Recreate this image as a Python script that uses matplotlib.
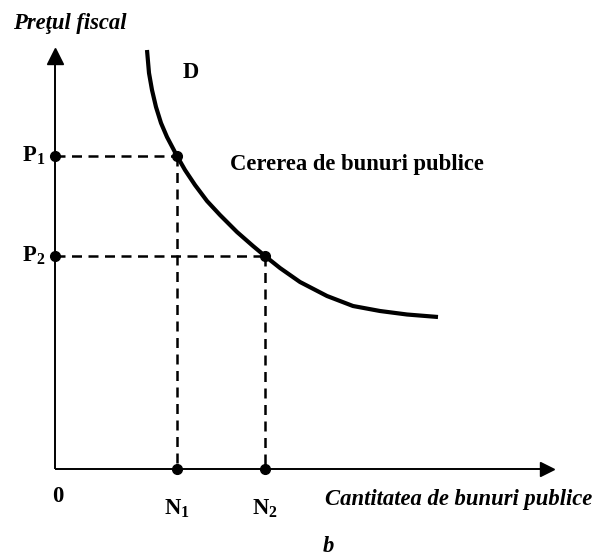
import numpy as np
import matplotlib
matplotlib.use("Agg")
import matplotlib.pyplot as plt

plt.rcParams['font.family'] = ['Liberation Serif', 'DejaVu Serif']
plt.rcParams['mathtext.fontset'] = 'custom'
plt.rcParams['mathtext.bf'] = 'Liberation Serif:bold'
plt.rcParams['mathtext.rm'] = 'Liberation Serif'

# demand curve (units measured from the origin)
curve_x = [92, 94, 97, 101, 106, 112, 122, 130, 140, 152, 165, 182, 198,
           210, 225, 245, 272, 298, 325, 352, 383]
curve_y = [419, 396, 379, 362, 346, 332, 313, 299, 284, 268, 254, 237, 223,
           213, 201, 187, 173, 163, 158, 154.5, 152]

# marked price levels and quantities
p_levels = [313, 213]
n_levels = [122, 210]
p_labels = [r'$\mathbf{P_1}$', r'$\mathbf{P_2}$']
n_labels = [r'$\mathbf{N_1}$', r'$\mathbf{N_2}$']

x_max = 492
y_max = 413

fig = plt.figure(figsize=(5.97, 5.59), dpi=100)
ax = fig.add_axes([0, 0, 1, 1])
ax.set_xlim(-55, 542)
ax.set_ylim(-90, 469)
ax.axis('off')

# axes with arrows
ax.plot([0, 0], [0, y_max], color='black', lw=1.4, solid_capstyle='butt')
ax.plot([0, x_max], [0, 0], color='black', lw=1.4, solid_capstyle='butt')
ax.plot(0, y_max, marker='^', ms=11, color='black')
ax.plot(x_max, 0, marker='>', ms=10, color='black')

# guides
for p, n in zip(p_levels, n_levels):
    ax.plot([0, n], [p, p], color='black', lw=1.8, dashes=(4, 2.6))
    ax.plot([n, n], [p, 0], color='black', lw=1.8, dashes=(4, 2.6))

ax.plot(curve_x, curve_y, color='black', lw=3, solid_capstyle='butt',
        solid_joinstyle='round')

dots_x = [0, 0] + n_levels + n_levels
dots_y = p_levels + p_levels + [0, 0]
ax.plot(dots_x, dots_y, 'o', color='black', ms=7, ls='none')

fs = 16.3
for p, lab in zip(p_levels, p_labels):
    ax.text(-10, p, lab, ha='right', va='center', fontsize=fs)
for n, lab in zip(n_levels, n_labels):
    ax.text(n, -40, lab, ha='center', va='center', fontsize=fs)
ax.text(3, -27, '0', ha='center', va='center', fontsize=fs, fontweight='bold')
ax.text(136, 397, 'D', ha='center', va='center', fontsize=fs, fontweight='bold')
ax.text(175, 299, 'Cererea de bunuri publice', ha='left', va='baseline',
        fontsize=fs, fontweight='bold')
ax.text(-42, 440, 'Preţul fiscal', ha='left', va='baseline', fontsize=fs,
        fontweight='bold', fontstyle='italic')
ax.text(537, -31, 'Cantitatea de bunuri publice', ha='right', va='center',
        fontsize=fs, fontweight='bold', fontstyle='italic')
ax.text(273, -78, 'b', ha='center', va='center', fontsize=fs,
        fontweight='bold', fontstyle='italic')

fig.savefig('out.png', dpi=100)
